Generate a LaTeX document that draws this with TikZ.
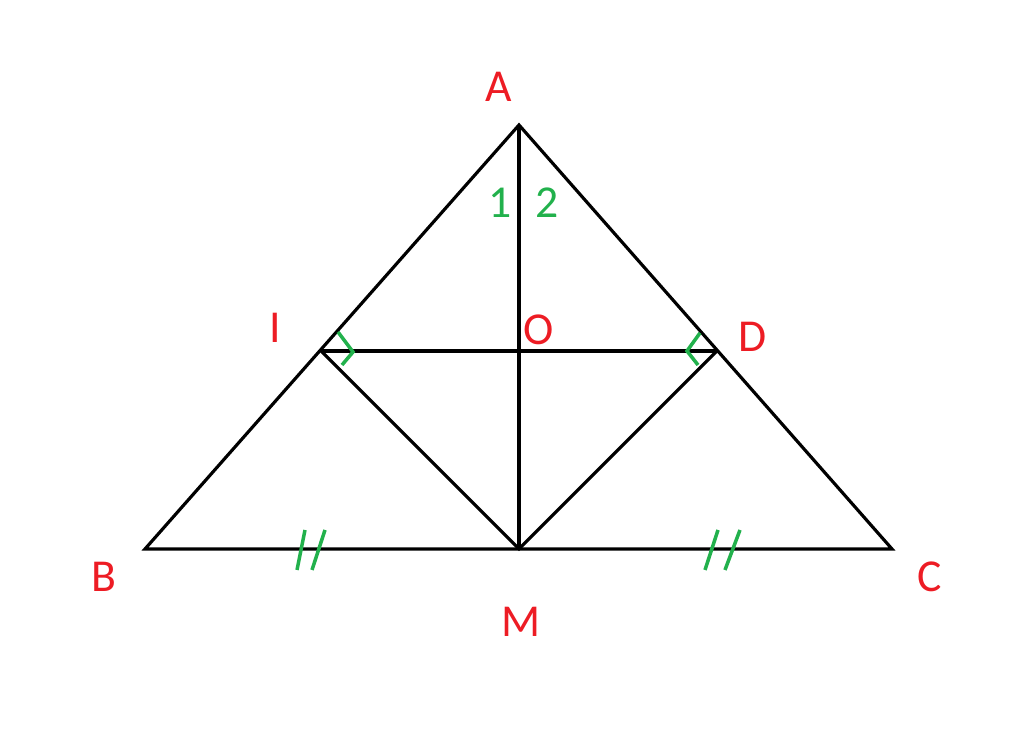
\documentclass[tikz,border=0pt]{standalone}
\usepackage{fontspec}
\setmainfont{Carlito}
\usepackage{tikz}
\usetikzlibrary{positioning}

\definecolor{ptred}{RGB}{237,28,36}
\definecolor{mkgreen}{RGB}{34,177,76}

\begin{document}
\begin{tikzpicture}[
  seg/.style={black,line width=0.9pt},
  greenmark/.style={mkgreen,line width=1pt},
  ptlabel/.style={text=ptred,font=\fontsize{13}{15}\selectfont,inner sep=0pt},
  anglabel/.style={text=mkgreen,font=\fontsize{13}{15}\selectfont,inner sep=0pt}]
\useasboundingbox (0,0) rectangle (10.24,7.31);

% points
\coordinate (A) at (5.19,6.06);
\coordinate (B) at (1.45,1.82);
\coordinate (C) at (8.92,1.82);
\coordinate (M) at (5.19,1.82);
\coordinate (I) at (3.21,3.80);
\coordinate (D) at (7.17,3.80);
\coordinate (O) at (5.19,3.80);

% triangle and inner segments
\draw[seg] (A) -- (B) -- (C) -- cycle;
\draw[seg] (A) -- (M);
\draw[seg] (I) -- (D);
\draw[seg] (I) -- (M) -- (D);

% angle marks at I and D
\draw[greenmark] (3.38,3.99) -- (3.53,3.79) -- (3.42,3.66);
\draw[greenmark] (7.00,3.98) -- (6.87,3.80) -- (6.98,3.66);

% equal segments BM = MC
\draw[greenmark] (3.05,2.01) -- (2.97,1.61);
\draw[greenmark] (3.25,2.01) -- (3.12,1.61);
\draw[greenmark] (7.18,2.01) -- (7.05,1.61);
\draw[greenmark] (7.40,2.01) -- (7.25,1.61);

% labels
\node[ptlabel] (lA) at (4.99,6.44) {A};
\node[ptlabel] (lB) at (1.04,1.54) {B};
\node[ptlabel] (lC) at (9.30,1.54) {C};
\node[ptlabel] (lM) at (5.21,1.09) {M};
\node[ptlabel] (lI) at (2.75,4.03) {I};
\node[ptlabel] (lO) at (5.39,4.01) {O};
\node[ptlabel] (lD) at (7.53,3.94) {D};
\node[anglabel] (a1) at (5.00,5.28) {1};
\node[anglabel] (a2) at (5.47,5.28) {2};
\end{tikzpicture}
\end{document}
